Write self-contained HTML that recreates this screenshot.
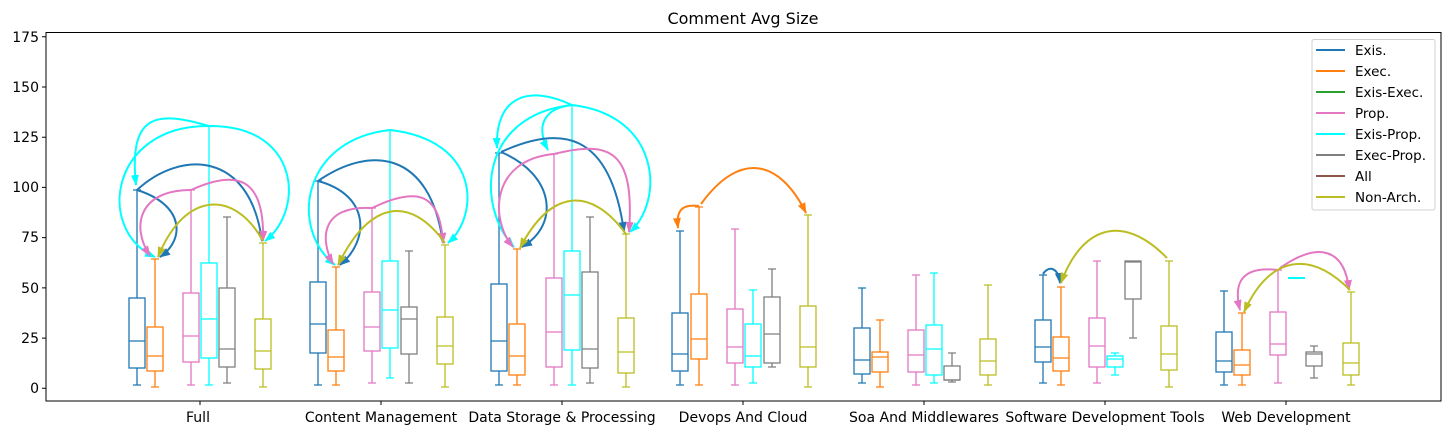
<!DOCTYPE html>
<html><head><meta charset="utf-8"><style>
html,body{margin:0;padding:0;background:#fff;}
svg{display:block;font-family:"DejaVu Sans","Liberation Sans",sans-serif;}
</style></head><body>
<svg width="1451" height="435" viewBox="0 0 1451 435" xmlns="http://www.w3.org/2000/svg">
<defs>
<marker id="mb" markerWidth="11" markerHeight="8" refX="10" refY="4" orient="auto" markerUnits="userSpaceOnUse"><path d="M0,0 L11,4 L0,8 z" fill="#1f77b4"/></marker>
<marker id="mc" markerWidth="11" markerHeight="8" refX="10" refY="4" orient="auto" markerUnits="userSpaceOnUse"><path d="M0,0 L11,4 L0,8 z" fill="#00ffff"/></marker>
<marker id="mp" markerWidth="11" markerHeight="8" refX="10" refY="4" orient="auto" markerUnits="userSpaceOnUse"><path d="M0,0 L11,4 L0,8 z" fill="#e377c2"/></marker>
<marker id="mo" markerWidth="11" markerHeight="8" refX="10" refY="4" orient="auto" markerUnits="userSpaceOnUse"><path d="M0,0 L11,4 L0,8 z" fill="#bcbd22"/></marker>
<marker id="mr" markerWidth="11" markerHeight="8" refX="10" refY="4" orient="auto" markerUnits="userSpaceOnUse"><path d="M0,0 L11,4 L0,8 z" fill="#ff7f0e"/></marker>
</defs>
<rect width="1451" height="435" fill="#fff"/>
<text x="743" y="24" font-size="16" text-anchor="middle" fill="#000">Comment Avg Size</text>

<g fill="none" stroke-width="1.3">
<g stroke="#1f77b4"><path d="M137,190V298M137,368V385M133,190H141M133,385H141M129,341H145"/><rect x="129" y="298" width="16" height="70"/></g>
<g stroke="#ff7f0e"><path d="M155,259V327M155,371V387M151,259H159M151,387H159M147,356H163"/><rect x="147" y="327" width="16" height="44"/></g>
<g stroke="#e377c2"><path d="M191,190V293M191,362V385M187,190H195M187,385H195M183,336H199"/><rect x="183" y="293" width="16" height="69"/></g>
<g stroke="#00ffff"><path d="M209,126V263M209,358V385M205,126H213M205,385H213M201,319H217"/><rect x="201" y="263" width="16" height="95"/></g>
<g stroke="#7f7f7f"><path d="M227,217V288M227,367V383M223,217H231M223,383H231M219,349H235"/><rect x="219" y="288" width="16" height="79"/></g>
<g stroke="#bcbd22"><path d="M263,243V319M263,369V387M259,243H267M259,387H267M255,351H271"/><rect x="255" y="319" width="16" height="50"/></g>
<g stroke="#1f77b4"><path d="M318,181V282M318,353V385M314,181H322M314,385H322M310,324H326"/><rect x="310" y="282" width="16" height="71"/></g>
<g stroke="#ff7f0e"><path d="M336,267V330M336,371V385M332,267H340M332,385H340M328,357H344"/><rect x="328" y="330" width="16" height="41"/></g>
<g stroke="#e377c2"><path d="M372,208V292M372,351V383M368,208H376M368,383H376M364,327H380"/><rect x="364" y="292" width="16" height="59"/></g>
<g stroke="#00ffff"><path d="M390,130V261M390,348V378M386,130H394M386,378H394M382,310H398"/><rect x="382" y="261" width="16" height="87"/></g>
<g stroke="#7f7f7f"><path d="M409,251V307M409,354V383M405,251H413M405,383H413M401,319H417"/><rect x="401" y="307" width="16" height="47"/></g>
<g stroke="#bcbd22"><path d="M445,245V317M445,364V387M441,245H449M441,387H449M437,346H453"/><rect x="437" y="317" width="16" height="47"/></g>
<g stroke="#1f77b4"><path d="M499,153V284M499,371V385M495,153H503M495,385H503M491,341H507"/><rect x="491" y="284" width="16" height="87"/></g>
<g stroke="#ff7f0e"><path d="M517,249V324M517,375V385M513,249H521M513,385H521M509,356H525"/><rect x="509" y="324" width="16" height="51"/></g>
<g stroke="#e377c2"><path d="M554,154V278M554,367V385M550,154H558M550,385H558M546,332H562"/><rect x="546" y="278" width="16" height="89"/></g>
<g stroke="#00ffff"><path d="M572,105V251M572,350V385M568,105H576M568,385H576M564,295H580"/><rect x="564" y="251" width="16" height="99"/></g>
<g stroke="#7f7f7f"><path d="M590,217V272M590,368V383M586,217H594M586,383H594M582,349H598"/><rect x="582" y="272" width="16" height="96"/></g>
<g stroke="#bcbd22"><path d="M626,234V318M626,373V387M622,234H630M622,387H630M618,352H634"/><rect x="618" y="318" width="16" height="55"/></g>
<g stroke="#1f77b4"><path d="M680,231V313M680,371V385M676,231H684M676,385H684M672,354H688"/><rect x="672" y="313" width="16" height="58"/></g>
<g stroke="#ff7f0e"><path d="M699,207V294M699,359V385M695,207H703M695,385H703M691,339H707"/><rect x="691" y="294" width="16" height="65"/></g>
<g stroke="#e377c2"><path d="M735,229V309M735,363V385M731,229H739M731,385H739M727,347H743"/><rect x="727" y="309" width="16" height="54"/></g>
<g stroke="#00ffff"><path d="M753,290V324M753,367V383M749,290H757M749,383H757M745,356H761"/><rect x="745" y="324" width="16" height="43"/></g>
<g stroke="#7f7f7f"><path d="M772,269V297M772,363V367M768,269H776M768,367H776M764,334H780"/><rect x="764" y="297" width="16" height="66"/></g>
<g stroke="#bcbd22"><path d="M808,215V306M808,367V387M804,215H812M804,387H812M800,347H816"/><rect x="800" y="306" width="16" height="61"/></g>
<g stroke="#1f77b4"><path d="M862,288V328M862,374V383M858,288H866M858,383H866M854,360H870"/><rect x="854" y="328" width="16" height="46"/></g>
<g stroke="#ff7f0e"><path d="M880,320V352M880,372V387M876,320H884M876,387H884M872,357H888"/><rect x="872" y="352" width="16" height="20"/></g>
<g stroke="#e377c2"><path d="M916,275V330M916,372V385M912,275H920M912,385H920M908,355H924"/><rect x="908" y="330" width="16" height="42"/></g>
<g stroke="#00ffff"><path d="M934,273V325M934,375V383M930,273H938M930,383H938M926,349H942"/><rect x="926" y="325" width="16" height="50"/></g>
<g stroke="#7f7f7f"><path d="M952,353V366M952,380V382M948,353H956M948,382H956M944,380H960"/><rect x="944" y="366" width="16" height="14"/></g>
<g stroke="#bcbd22"><path d="M988,285V339M988,375V385M984,285H992M984,385H992M980,361H996"/><rect x="980" y="339" width="16" height="36"/></g>
<g stroke="#1f77b4"><path d="M1043,275V320M1043,362V383M1039,275H1047M1039,383H1047M1035,347H1051"/><rect x="1035" y="320" width="16" height="42"/></g>
<g stroke="#ff7f0e"><path d="M1061,287V337M1061,371V385M1057,287H1065M1057,385H1065M1053,358H1069"/><rect x="1053" y="337" width="16" height="34"/></g>
<g stroke="#e377c2"><path d="M1097,261V318M1097,367V383M1093,261H1101M1093,383H1101M1089,346H1105"/><rect x="1089" y="318" width="16" height="49"/></g>
<g stroke="#00ffff"><path d="M1115,353V356M1115,367V375M1111,353H1119M1111,375H1119M1107,359H1123"/><rect x="1107" y="356" width="16" height="11"/></g>
<g stroke="#7f7f7f"><path d="M1133,299V338M1129,338H1137M1125,262H1141"/><rect x="1125" y="261" width="16" height="38"/></g>
<g stroke="#bcbd22"><path d="M1169,261V326M1169,370V387M1165,261H1173M1165,387H1173M1161,354H1177"/><rect x="1161" y="326" width="16" height="44"/></g>
<g stroke="#1f77b4"><path d="M1224,291V332M1224,372V385M1220,291H1228M1220,385H1228M1216,361H1232"/><rect x="1216" y="332" width="16" height="40"/></g>
<g stroke="#ff7f0e"><path d="M1242,313V350M1242,375V385M1238,313H1246M1238,385H1246M1234,365H1250"/><rect x="1234" y="350" width="16" height="25"/></g>
<g stroke="#e377c2"><path d="M1278,270V312M1278,355V383M1274,270H1282M1274,383H1282M1270,344H1286"/><rect x="1270" y="312" width="16" height="43"/></g>
<path d="M1288,278H1305" stroke="#00ffff" stroke-width="2"/>
<g stroke="#7f7f7f"><path d="M1314,346V352M1314,366V378M1310,346H1318M1310,378H1318M1306,354H1322"/><rect x="1306" y="352" width="16" height="14"/></g>
<g stroke="#bcbd22"><path d="M1351,292V343M1351,375V385M1347,292H1355M1347,385H1355M1343,363H1359"/><rect x="1343" y="343" width="16" height="32"/></g>
</g>

<g fill="none" stroke-width="2">
<path d="M209,126 C160,112 128,110 136,185" stroke="#00ffff" marker-end="url(#mc)"/>
<path d="M209,126 C110,125 95,230 155,257" stroke="#00ffff" marker-end="url(#mc)"/>
<path d="M209,126 C300,125 305,210 265,241" stroke="#00ffff" marker-end="url(#mc)"/>
<path d="M137,190 C180,150 250,150 262,241" stroke="#1f77b4" marker-end="url(#mb)"/>
<path d="M137,190 C185,205 185,240 160,257" stroke="#1f77b4" marker-end="url(#mb)"/>
<path d="M191,190 C140,190 130,225 150,256" stroke="#e377c2" marker-end="url(#mp)"/>
<path d="M191,190 C235,170 265,175 263,241" stroke="#e377c2" marker-end="url(#mp)"/>
<path d="M263,241 C235,190 185,190 158,257" stroke="#bcbd22" marker-end="url(#mo)"/>

<path d="M390,130 C300,140 290,230 335,265" stroke="#00ffff" marker-end="url(#mc)"/>
<path d="M390,130 C480,140 480,215 448,243" stroke="#00ffff" marker-end="url(#mc)"/>
<path d="M318,181 C370,145 430,150 443,243" stroke="#1f77b4" marker-end="url(#mb)"/>
<path d="M318,181 C370,195 370,240 340,265" stroke="#1f77b4" marker-end="url(#mb)"/>
<path d="M372,208 C320,205 320,240 333,264" stroke="#e377c2" marker-end="url(#mp)"/>
<path d="M372,208 C420,185 440,195 443,243" stroke="#e377c2" marker-end="url(#mp)"/>
<path d="M445,243 C410,195 370,200 338,265" stroke="#bcbd22" marker-end="url(#mo)"/>

<path d="M572,105 C530,85 495,95 497,148" stroke="#00ffff" marker-end="url(#mc)"/>
<path d="M572,105 C545,108 535,125 548,150" stroke="#00ffff" marker-end="url(#mc)"/>
<path d="M572,105 C480,115 475,205 514,247" stroke="#00ffff" marker-end="url(#mc)"/>
<path d="M572,105 C660,115 665,200 630,232" stroke="#00ffff" marker-end="url(#mc)"/>
<path d="M501,152 C560,125 610,130 624,232" stroke="#1f77b4" marker-end="url(#mb)"/>
<path d="M501,152 C555,175 560,225 522,247" stroke="#1f77b4" marker-end="url(#mb)"/>
<path d="M554,154 C490,160 490,220 513,247" stroke="#e377c2" marker-end="url(#mp)"/>
<path d="M554,154 C610,140 635,150 629,232" stroke="#e377c2" marker-end="url(#mp)"/>
<path d="M626,234 C590,185 550,190 520,248" stroke="#bcbd22" marker-end="url(#mo)"/>

<path d="M699,206 C682,204 676,210 678,228" stroke="#ff7f0e" marker-end="url(#mr)"/>
<path d="M701,204 C740,150 780,160 806,213" stroke="#ff7f0e" marker-end="url(#mr)"/>

<path d="M1043,274 C1048,266 1058,266 1060,283" stroke="#1f77b4" marker-end="url(#mb)"/>
<path d="M1167,258 C1120,210 1080,230 1061,283" stroke="#bcbd22" marker-end="url(#mo)"/>

<path d="M1278,270 C1235,265 1235,290 1240,310" stroke="#e377c2" marker-end="url(#mp)"/>
<path d="M1280,268 C1320,240 1345,250 1349,290" stroke="#e377c2" marker-end="url(#mp)"/>
<path d="M1350,290 C1310,250 1270,255 1244,312" stroke="#bcbd22" marker-end="url(#mo)"/>
</g>

<rect x="46" y="32.5" width="1395" height="368.5" fill="none" stroke="#000" stroke-width="1"/>
<g stroke="#000" stroke-width="1">
<path d="M42,388.3H46M42,338.1H46M42,287.9H46M42,237.6H46M42,187.4H46M42,137.2H46M42,87H46M42,36.7H46"/>
<path d="M200,401V405M381,401V405M562,401V405M743,401V405M924,401V405M1105,401V405M1286,401V405"/>
</g>
<g font-size="14" fill="#000" text-anchor="end">
<text x="39" y="393">0</text><text x="39" y="343">25</text><text x="39" y="293">50</text><text x="39" y="242">75</text>
<text x="39" y="192">100</text><text x="39" y="142">125</text><text x="39" y="92">150</text><text x="39" y="42">175</text>
</g>
<g font-size="14" fill="#000" text-anchor="middle">
<text x="198" y="422">Full</text><text x="381" y="422">Content Management</text><text x="562" y="422">Data Storage &amp; Processing</text>
<text x="743" y="422">Devops And Cloud</text><text x="924" y="422">Soa And Middlewares</text><text x="1105" y="422">Software Development Tools</text>
<text x="1286" y="422">Web Development</text>
</g>

<rect x="1312" y="39.5" width="123" height="170.5" rx="2" fill="#fff" stroke="#d0d0d0"/>
<g stroke-width="2">
<path d="M1316,50H1345" stroke="#1f77b4"/><path d="M1316,71H1345" stroke="#ff7f0e"/>
<path d="M1316,92H1345" stroke="#2ca02c"/><path d="M1316,113H1345" stroke="#e377c2"/>
<path d="M1316,134H1345" stroke="#00ffff"/><path d="M1316,155H1345" stroke="#7f7f7f"/>
<path d="M1316,176H1345" stroke="#8c564b"/><path d="M1316,197H1345" stroke="#bcbd22"/>
</g>
<g font-size="13.5" fill="#000">
<text x="1355" y="55">Exis.</text><text x="1355" y="76">Exec.</text><text x="1355" y="97">Exis-Exec.</text>
<text x="1355" y="118">Prop.</text><text x="1355" y="139">Exis-Prop.</text><text x="1355" y="160">Exec-Prop.</text>
<text x="1355" y="181">All</text><text x="1355" y="202">Non-Arch.</text>
</g>
</svg>
</body></html>
